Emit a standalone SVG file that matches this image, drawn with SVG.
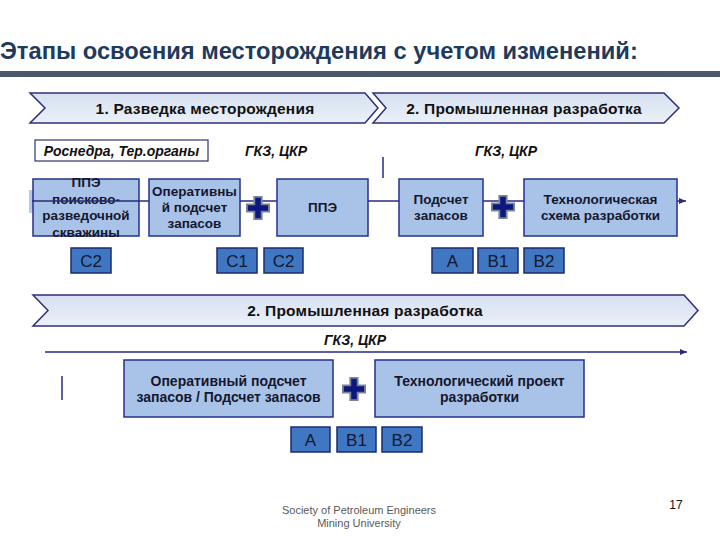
<svg xmlns="http://www.w3.org/2000/svg" width="720" height="540" viewBox="0 0 720 540">
<style>
.title{font-family:"Liberation Sans",Arial,sans-serif;font-weight:bold;font-size:23.7px;fill:#1e3a5c}
.chev{fill:url(#chevGrad);stroke:#2f2f78;stroke-width:1.5}
.chevTxt{font-family:"Liberation Sans",Arial,sans-serif;font-weight:bold;font-size:15.5px;letter-spacing:0.2px;fill:#111;text-anchor:middle}
.box{fill:#a9c3e8;stroke:#26318c;stroke-width:1.5}
.boxTxt{font-family:"Liberation Sans",Arial,sans-serif;font-weight:bold;font-size:13.5px;fill:#14172e;text-anchor:middle}
.boxTxt2{font-family:"Liberation Sans",Arial,sans-serif;font-weight:bold;font-size:14px;fill:#14172e;text-anchor:middle}
.cat{fill:#3f77c3;stroke:#1b2b6e;stroke-width:1.5}
.catTxt{font-family:"Liberation Sans",Arial,sans-serif;font-size:17px;fill:#14172e;text-anchor:middle}
.org{font-family:"Liberation Sans",Arial,sans-serif;font-weight:bold;font-style:italic;font-size:14px;fill:#111;text-anchor:middle}
.conn{stroke:#2a2a80;stroke-width:1.5;fill:none}
.foot{font-family:"Liberation Sans",Arial,sans-serif;font-size:11px;fill:#5a5a5a;text-anchor:middle}
</style>
<defs>
<linearGradient id="chevGrad" x1="0" y1="0" x2="0" y2="1">
<stop offset="0" stop-color="#d6e0f1"/>
<stop offset="1" stop-color="#ecf1f9"/>
</linearGradient>
<marker id="arr" markerWidth="8" markerHeight="8" refX="7" refY="4" orient="auto" markerUnits="userSpaceOnUse">
<path d="M0,1 L7,4 L0,7 z" fill="#2a2a80"/>
</marker>
<symbol id="plus" viewBox="-13 -13 26 26" overflow="visible">
<path d="M-4,-12 H4 V-4 H12 V4 H4 V12 H-4 V4 H-12 V-4 H-4 z" fill="#0c1880" stroke="#7b8594" stroke-width="2"/>
</symbol>
</defs>

<rect width="720" height="540" fill="#ffffff"/>

<g id="title">
<text class="title" x="0" y="59">Этапы освоения месторождения с учетом изменений:</text>
<rect x="0" y="71" width="720" height="6" fill="#4a586c"/>
</g>

<g id="stage1">
<polygon class="chev" points="30,93 365,93 378,108 365,123 30,123 45,108"/>
<text class="chevTxt" x="205" y="113.5">1. Разведка месторождения</text>
</g>
<g id="stage2">
<polygon class="chev" points="373,93 664,93 679,108 664,123 373,123 386,108"/>
<text class="chevTxt" x="524" y="113.5">2. Промышленная разработка</text>
</g>

<g id="org1">
<rect x="35" y="140" width="173" height="21" fill="#ffffff" stroke="#2f2f78" stroke-width="1.2"/>
<text class="org" x="121.5" y="155.5">Роснедра, Тер.органы</text>
</g>
<g id="org2"><text class="org" x="276" y="155.5">ГКЗ, ЦКР</text></g>
<g id="org3"><text class="org" x="506" y="155.5">ГКЗ, ЦКР</text></g>

<rect x="29" y="190" width="4" height="23" fill="#b9c9e8"/>

<g id="box1">
<rect class="box" x="33" y="179" width="106" height="57"/>
<text class="boxTxt" x="86" y="187">ППЭ</text>
<text class="boxTxt" x="86" y="203.5">поисково-</text>
<text class="boxTxt" x="86" y="220">разведочной</text>
<text class="boxTxt" x="86" y="236.5">скважины</text>
</g>

<g id="connectors">
<line class="conn" x1="32" y1="201" x2="686" y2="201" marker-end="url(#arr)"/>
<line class="conn" x1="383" y1="157" x2="383" y2="178"/>
<line class="conn" x1="45" y1="352" x2="687" y2="352" marker-end="url(#arr)"/>
<line class="conn" x1="62" y1="376" x2="62" y2="400"/>
</g>

<g id="box2">
<rect class="box" x="149" y="179" width="91" height="57"/>
<text class="boxTxt" x="194.5" y="196">Оперативны</text>
<text class="boxTxt" x="194.5" y="212">й подсчет</text>
<text class="boxTxt" x="194.5" y="228">запасов</text>
</g>
<g id="plus1"><use href="#plus" x="246" y="196" width="24" height="24"/></g>
<g id="box3">
<rect class="box" x="277" y="179" width="91" height="57"/>
<text class="boxTxt" x="322.5" y="212">ППЭ</text>
</g>
<g id="box4">
<rect class="box" x="399" y="179" width="84" height="57"/>
<text class="boxTxt" x="441" y="204">Подсчет</text>
<text class="boxTxt" x="441" y="220">запасов</text>
</g>
<g id="plus2"><use href="#plus" x="491" y="195" width="24" height="24"/></g>
<g id="box5">
<rect class="box" x="524" y="179" width="153" height="57"/>
<text class="boxTxt" x="600.5" y="204">Технологическая</text>
<text class="boxTxt" x="600.5" y="220">схема разработки</text>
</g>

<g id="cat-c2a"><rect class="cat" x="71" y="248" width="40" height="25"/><text class="catTxt" x="91" y="267">С2</text></g>
<g id="cat-c1"><rect class="cat" x="217" y="248" width="40" height="25"/><text class="catTxt" x="237" y="267">С1</text></g>
<g id="cat-c2b"><rect class="cat" x="264" y="248" width="39" height="25"/><text class="catTxt" x="283.5" y="267">С2</text></g>
<g id="cat-a1"><rect class="cat" x="432" y="248" width="41" height="25"/><text class="catTxt" x="452.5" y="267">А</text></g>
<g id="cat-b1a"><rect class="cat" x="478" y="248" width="40" height="25"/><text class="catTxt" x="498" y="267">В1</text></g>
<g id="cat-b2a"><rect class="cat" x="524" y="248" width="40" height="25"/><text class="catTxt" x="544" y="267">В2</text></g>

<g id="stage2b">
<polygon class="chev" points="33,295 684,295 698,310.5 684,326 33,326 48,310.5"/>
<text class="chevTxt" x="365" y="316">2. Промышленная разработка</text>
</g>
<g id="org4"><text class="org" x="355" y="345">ГКЗ, ЦКР</text></g>

<g id="box6">
<rect class="box" x="124" y="360" width="209" height="57"/>
<text class="boxTxt2" x="228.5" y="386">Оперативный подсчет</text>
<text class="boxTxt2" x="228.5" y="402">запасов / Подсчет запасов</text>
</g>
<g id="plus3"><use href="#plus" x="342" y="377" width="24" height="24"/></g>
<g id="box7">
<rect class="box" x="375" y="360" width="209" height="57"/>
<text class="boxTxt2" x="479.5" y="386">Технологический проект</text>
<text class="boxTxt2" x="479.5" y="402">разработки</text>
</g>

<g id="cat-a2"><rect class="cat" x="291" y="427" width="39" height="25"/><text class="catTxt" x="310.5" y="446">А</text></g>
<g id="cat-b1b"><rect class="cat" x="337" y="427" width="39" height="25"/><text class="catTxt" x="356.5" y="446">В1</text></g>
<g id="cat-b2b"><rect class="cat" x="382" y="427" width="40" height="25"/><text class="catTxt" x="402" y="446">В2</text></g>

<g id="footer">
<text class="foot" x="359" y="514">Society of Petroleum Engineers</text>
<text class="foot" x="359" y="527">Mining University</text>
<text x="676" y="509" font-family="Liberation Sans, Arial, sans-serif" font-size="12" fill="#111" text-anchor="middle">17</text>
</g>
</svg>
